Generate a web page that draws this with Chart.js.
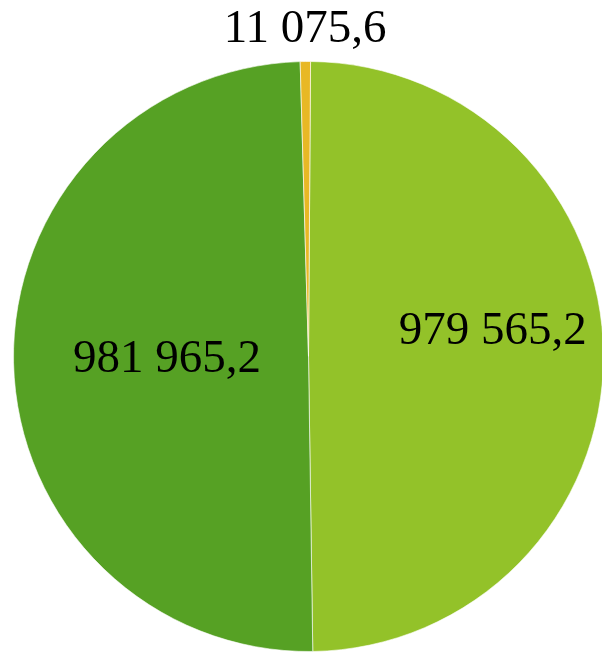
<!DOCTYPE html>
<html>
<head>
<meta charset="utf-8">
<script src="https://cdn.jsdelivr.net/npm/chart.js@4"></script>
<style>
  html, body { margin: 0; padding: 0; background: #fff; overflow: hidden; }
  #wrap { width: 620px; height: 654px; position: relative; }
</style>
</head>
<body>
<div id="wrap"><canvas id="myChart"></canvas></div>
<script>
// slice values, in drawing order (clockwise from 12 o'clock)
const categories = ["A", "B", "C"];
const sliceValues = [979565.2, 981965.2, 11075.6];
const sliceColors = ["#93c229", "#56a124", "#e8b825"];

// label placement: radial factor of outer radius, angle nudge in degrees
const labelRadius = [0.63, 0.48, 1.107];
const labelAngleShift = [-7.5, 0, 0];

function formatValue(v) {
  const parts = v.toFixed(1).split(".");
  const intPart = parts[0].replace(/\B(?=(\d{3})+(?!\d))/g, " ");
  return intPart + "," + parts[1];
}

const sliceLabels = {
  id: "sliceLabels",
  afterDatasetsDraw(chart) {
    const ctx = chart.ctx;
    const meta = chart.getDatasetMeta(0);
    ctx.save();
    ctx.font = "47px 'Liberation Serif', 'Times New Roman', serif";
    ctx.fillStyle = "#000";
    ctx.textAlign = "center";
    ctx.textBaseline = "middle";
    meta.data.forEach((arc, i) => {
      const p = arc.getProps(["x", "y", "startAngle", "endAngle", "outerRadius"], true);
      const mid = (p.startAngle + p.endAngle) / 2 + labelAngleShift[i] * Math.PI / 180;
      const r = p.outerRadius * labelRadius[i];
      ctx.fillText(formatValue(sliceValues[i]), p.x + Math.cos(mid) * r, p.y + Math.sin(mid) * r);
    });
    ctx.restore();
  },
};

new Chart(document.getElementById("myChart"), {
  type: "pie",
  data: {
    labels: categories,
    datasets: [
      {
        data: sliceValues,
        backgroundColor: sliceColors,
        borderColor: "rgba(255,255,255,0.6)",
        borderWidth: 1,
      },
    ],
  },
  options: {
    responsive: true,
    maintainAspectRatio: false,
    animation: false,
    rotation: 0.4,
    layout: {
      padding: { left: 13, top: 61, right: 16, bottom: 2 },
    },
    plugins: {
      legend: { display: false },
      tooltip: { enabled: false },
    },
  },
  plugins: [sliceLabels],
});
</script>
</body>
</html>
